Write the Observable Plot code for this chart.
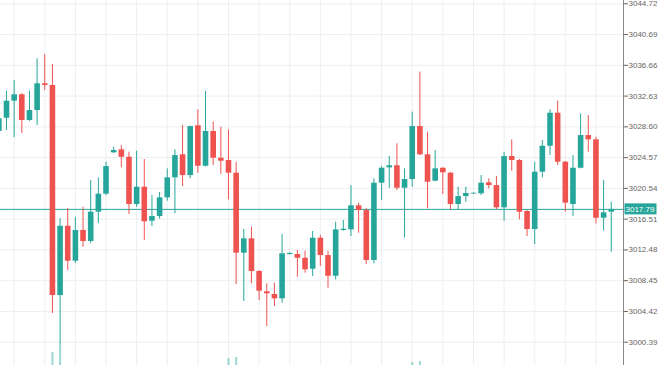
<!DOCTYPE html>
<html>
<head>
<meta charset="utf-8">
<script src="https://cdn.jsdelivr.net/npm/d3@7"></script>
<script src="https://cdn.jsdelivr.net/npm/@observablehq/plot@0.6"></script>
<style>
  html, body { margin: 0; padding: 0; background: #fff; }
  #chart svg { display: block; }
</style>
</head>
<body>
<div id="chart"></div>
<script>
const opens = [3027.99,3029.73,3031.96,3032.80,3029.43,3030.74,3034.24,3034.01,3006.50,3015.58,
3011.00,3015.02,3013.58,3017.42,3019.78,3025.20,3025.59,3024.62,3018.43,3020.69,
3016.24,3016.85,3019.30,3021.92,3024.94,3022.22,3028.74,3023.44,3027.99,3024.49,
3024.19,3022.53,3012.05,3013.93,3009.65,3006.99,3006.64,3006.07,3011.88,3011.88,
3011.39,3009.95,3014.01,3011.74,3009.03,3015.02,3015.11,3018.26,3017.64,3011.09,
3021.22,3023.23,3023.50,3020.56,3021.70,3028.64,3024.94,3021.48,3023.18,3022.53,
3018.43,3019.47,3019.80,3019.83,3021.27,3020.91,3017.99,3024.71,3024.19,3017.51,
3015.15,3022.66,3026.06,3030.39,3023.97,3018.43,3023.18,3027.46,3026.90,3016.63,3017.42];
const closes = [3029.65,3031.96,3032.80,3029.43,3030.74,3034.24,3034.01,3006.50,3015.58,3011.00,
3015.02,3013.58,3017.42,3019.78,3023.40,3025.50,3024.62,3018.43,3020.69,3016.16,
3016.85,3019.30,3021.92,3024.84,3022.22,3028.64,3023.44,3027.99,3024.49,3024.10,
3022.53,3012.05,3013.93,3009.65,3007.07,3006.73,3006.07,3011.97,3012.02,3011.39,
3009.87,3014.01,3011.74,3009.03,3015.11,3015.19,3018.26,3017.64,3011.09,3021.22,
3023.18,3023.50,3020.56,3021.70,3028.64,3024.94,3021.35,3023.10,3022.58,3018.43,
3019.47,3019.87,3019.90,3021.22,3020.91,3017.99,3024.71,3024.19,3017.42,3015.15,
3022.66,3026.06,3030.39,3023.97,3018.60,3023.18,3027.46,3026.90,3016.63,3017.34,3017.79];
const highs = [3030.74,3033.27,3034.67,3032.95,3033.27,3037.51,3038.08,3036.77,3016.59,3017.90,
3016.76,3018.07,3021.57,3021.92,3023.97,3025.93,3026.15,3025.28,3025.41,3024.32,
3019.60,3020.00,3023.10,3025.59,3028.77,3028.70,3030.83,3033.23,3029.21,3028.55,
3028.21,3023.97,3015.15,3015.45,3009.78,3008.04,3008.12,3014.50,3012.10,3012.40,
3012.31,3014.89,3014.36,3012.31,3016.11,3016.33,3020.91,3018.60,3017.90,3021.79,
3023.40,3024.75,3026.38,3023.10,3030.52,3035.76,3027.90,3025.50,3023.25,3022.60,
3020.69,3020.69,3019.95,3022.22,3021.79,3022.09,3025.28,3026.90,3024.32,3017.64,
3023.97,3026.81,3030.83,3031.96,3024.05,3024.84,3030.31,3030.08,3027.24,3021.57,3018.73];
const lows = [3027.46,3028.12,3027.20,3027.73,3029.30,3028.77,3033.36,3004.15,2999.95,3009.78,
3010.70,3012.83,3013.30,3015.94,3019.60,3025.10,3023.23,3017.12,3018.07,3013.71,
3015.54,3016.50,3018.86,3017.21,3020.78,3021.79,3022.53,3023.35,3023.53,3022.36,
3019.04,3007.95,3005.72,3008.04,3005.85,3002.44,3005.06,3005.50,3011.80,3008.90,
3009.43,3008.99,3010.30,3007.46,3008.56,3014.93,3014.23,3014.67,3010.57,3010.66,
3018.95,3020.56,3020.26,3014.06,3020.69,3024.84,3017.86,3021.40,3019.74,3017.73,
3017.77,3018.73,3019.75,3019.60,3020.48,3017.73,3016.24,3022.79,3016.42,3014.23,
3013.19,3021.92,3024.84,3023.53,3017.42,3016.85,3023.10,3025.28,3015.90,3014.93,3012.18];
const volume = [0,0,0,0,0,0,0,13,20,0, 0,0,0,0,0,0,0,0,0,0, 0,0,0,0,0,0,0,0,0,0,
7,8,0,0,0,0,0,0,0,0, 0,0,0,0,0,0,0,0,0,0, 0,0,0,0,3,4,0,0,0,0,
0,0,0,0,0,0,0,0,0,0, 0,0,0,0,0,0,0,0,0,0,0];
const yTicks = [3000.39,3004.42,3008.45,3012.48,3016.51,3020.54,3024.57,3028.60,3032.63,3036.66,3040.69,3044.72];
const gridIdx = [2,6,10,14,18,22,26,30,34,38,42,46,50,54,58,62,66,70,74,78];
const lastPrice = 3017.79;

const TEAL = "#26a69a", RED = "#ef5350";
const xDomain = [0.217, 81.6];
const yDomain = [2997.34, 3045.15];
const volK = 0.131;

const data = opens.map((o, i) => ({i, o, c: closes[i], h: highs[i], l: lows[i], v: volume[i], up: closes[i] >= o}));
const up = data.filter(d => d.up), down = data.filter(d => !d.up);

const plot = Plot.plot({
  width: 660, height: 365,
  marginLeft: 0, marginRight: 37, marginTop: 0, marginBottom: 0,
  style: {fontFamily: "'Liberation Sans', Arial, sans-serif", fontSize: "8px", background: "#fff"},
  x: {domain: xDomain, axis: null},
  y: {domain: yDomain, axis: null},
  marks: [
    Plot.gridY(yTicks, {stroke: "#eceef2", strokeOpacity: 1}),
    Plot.gridX(gridIdx, {stroke: "#eceef2", strokeOpacity: 1}),
    Plot.ruleX(data.filter(d => d.v > 0), {x: "i", y1: () => yDomain[0], y2: d => yDomain[0] + d.v * volK, stroke: TEAL, strokeOpacity: 0.45, strokeWidth: 2}),
    Plot.ruleY([lastPrice], {stroke: TEAL, strokeWidth: 1}),
    Plot.ruleX(up, {x: "i", y1: "l", y2: "h", stroke: TEAL, strokeWidth: 1}),
    Plot.ruleX(down, {x: "i", y1: "l", y2: "h", stroke: RED, strokeWidth: 1}),
    Plot.ruleX(up, {x: "i", y1: "o", y2: "c", stroke: TEAL, strokeWidth: 5.6}),
    Plot.ruleX(down, {x: "i", y1: "o", y2: "c", stroke: RED, strokeWidth: 5.6}),
    Plot.axisY(yTicks, {anchor: "right", tickSize: 4, tickPadding: 1, tickFormat: d => d.toFixed(2), color: "#666", fontSize: 8}),
    Plot.ruleX([xDomain[1]], {stroke: "#888", strokeWidth: 1})
  ]
});

const svg = d3.select(plot);
const yl = plot.scale("y").apply(lastPrice);
const xl = plot.scale("x").apply(xDomain[1]);
svg.append("rect").attr("x", xl + 1.5).attr("y", yl - 5.5).attr("width", 32).attr("height", 11).attr("fill", TEAL);
svg.append("text").attr("x", xl + 2.5).attr("y", yl).attr("dy", "0.35em")
  .attr("text-anchor", "start")
  .attr("fill", "#fff").attr("font-size", 8).text(lastPrice.toFixed(2));

document.getElementById("chart").appendChild(plot);
</script>
</body>
</html>
